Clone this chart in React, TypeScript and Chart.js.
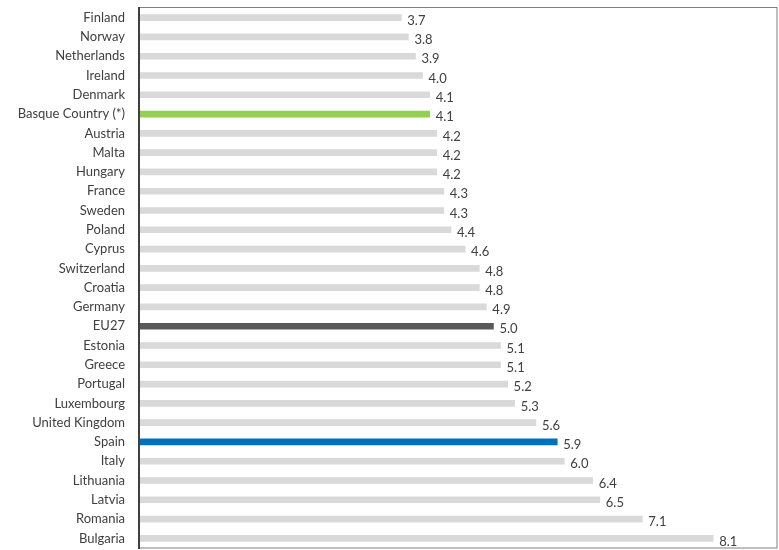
import React, { useEffect, useRef } from "react";
import { Chart, registerables } from "chart.js";

Chart.register(...registerables);

const categories = [
  "Finland", "Norway", "Netherlands", "Ireland", "Denmark", "Basque Country (*)",
  "Austria", "Malta", "Hungary", "France", "Sweden", "Poland", "Cyprus",
  "Switzerland", "Croatia", "Germany", "EU27", "Estonia", "Greece", "Portugal",
  "Luxembourg", "United Kingdom", "Spain", "Italy", "Lithuania", "Latvia",
  "Romania", "Bulgaria",
];
const values = [
  3.7, 3.8, 3.9, 4.0, 4.1, 4.1, 4.2, 4.2, 4.2, 4.3, 4.3, 4.4, 4.6, 4.8, 4.8,
  4.9, 5.0, 5.1, 5.1, 5.2, 5.3, 5.6, 5.9, 6.0, 6.4, 6.5, 7.1, 8.1,
];
const highlight: Record<string, string> = {
  "Basque Country (*)": "#92D050",
  EU27: "#595959",
  Spain: "#0070C0",
};
const baseColor = "#D9D9D9";

const FONT = "Lato, 'Open Sans', sans-serif";

const labelPlugin = {
  id: "valueLabels",
  afterDatasetsDraw(chart: any) {
    const ctx = chart.ctx;
    const meta = chart.getDatasetMeta(0);
    ctx.save();
    ctx.font = `13px ${FONT}`;
    ctx.fillStyle = "#404040";
    ctx.textAlign = "left";
    ctx.textBaseline = "middle";
    meta.data.forEach((bar: any, i: number) => {
      ctx.fillText(values[i].toFixed(1), bar.x + 6, bar.y + 3);
    });
    ctx.restore();
  },
};

const framePlugin = {
  id: "frame",
  afterDraw(chart: any) {
    const { ctx, chartArea } = chart;
    ctx.save();
    ctx.strokeStyle = "#7F7F7F";
    ctx.lineWidth = 1;
    ctx.strokeRect(chartArea.left + 0.5, chartArea.top - 0.5, chartArea.right - chartArea.left - 0.5, chartArea.bottom - chartArea.top + 0.5);
    ctx.strokeStyle = "#404040";
    ctx.lineWidth = 2;
    ctx.beginPath();
    ctx.moveTo(chartArea.left, chartArea.top - 1);
    ctx.lineTo(chartArea.left, chartArea.bottom + 1);
    ctx.stroke();
    ctx.restore();
  },
};

export default function App() {
  const ref = useRef<HTMLCanvasElement>(null);
  useEffect(() => {
    if (!ref.current) return;
    const chart = new Chart(ref.current, {
      type: "bar",
      data: {
        labels: categories,
        datasets: [
          {
            data: values,
            backgroundColor: categories.map((c) => highlight[c] || baseColor),
            barThickness: 6,
          },
        ],
      },
      options: {
        indexAxis: "y",
        animation: false,
        responsive: false,
        maintainAspectRatio: false,
        layout: { padding: { top: 8, right: 2, bottom: 2, left: 0 } },
        plugins: { legend: { display: false }, tooltip: { enabled: false } },
        scales: {
          x: { display: false, min: 0, max: 9 },
          y: {
            grid: { display: false },
            border: { display: false },
            ticks: {
              color: "#404040",
              font: { family: FONT, size: 13 },
              padding: 6,
            },
            afterFit(scale: any) {
              scale.width = 139;
              scale.paddingTop = 0;
              scale.paddingBottom = 0;
            },
          },
        },
      },
      plugins: [labelPlugin, framePlugin],
    });
    return () => chart.destroy();
  }, []);
  return (
    <div style={{ position: "fixed", left: 0, top: 0, width: 779, height: 550, background: "#fff" }}>
      <canvas ref={ref} width={779} height={550} />
    </div>
  );
}
